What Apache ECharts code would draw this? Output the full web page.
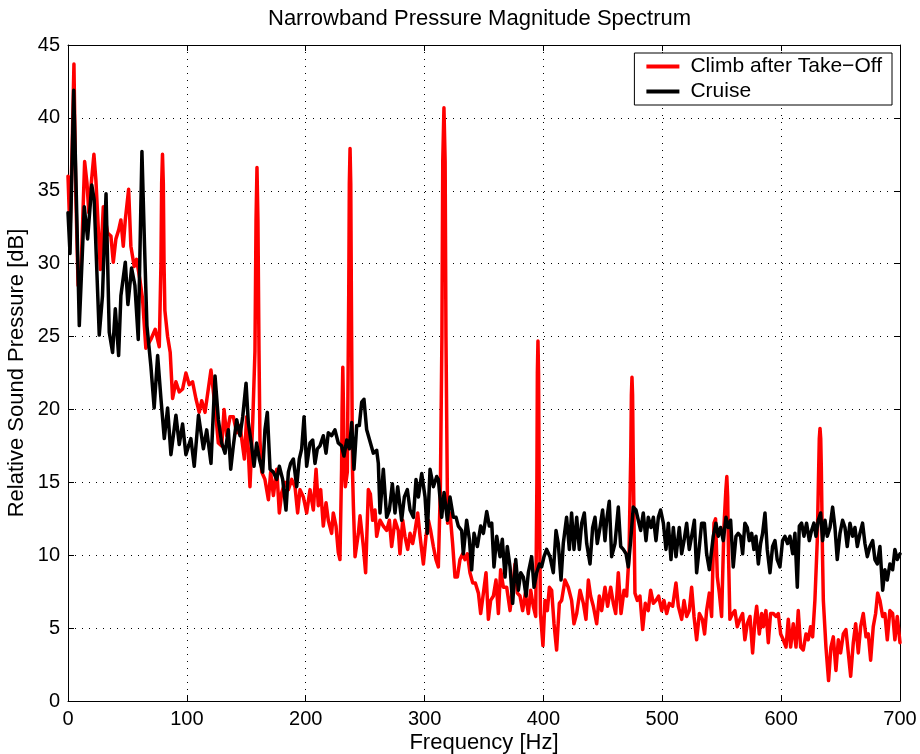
<!DOCTYPE html>
<html>
<head>
<meta charset="utf-8">
<script src="https://cdn.jsdelivr.net/npm/echarts@6/dist/echarts.min.js"></script>
<style>html,body{margin:0;padding:0;background:#fff}#chart{width:920px;height:754px}</style>
</head>
<body>
<div id="chart"></div>
<script>
const chartTitle = 'Narrowband Pressure Magnitude Spectrum';
const xAxisName = 'Frequency [Hz]';
const yAxisName = 'Relative Sound Pressure [dB]';
const seriesNames = ['Climb after Take\u2212Off', 'Cruise'];

// [frequency Hz, level dB]
const climbSpectrum = [[0,36],[1.7,32],[3.5,38],[5,43.7],[6.5,35],[8.5,28.5],[11,29.6],[14,37],[16,35.5],[17.5,33.5],[19,35],[21.8,37.5],[23.5,35.7],[27.2,29.6],[29.7,33.9],[31.5,33],[33.3,32.1],[36.1,31.9],[38.1,30.1],[40.3,31.7],[42.6,32.3],[44.5,33],[46.5,31.2],[48.2,33],[51,35.1],[52.9,31.2],[55.7,29.8],[57.7,30.3],[60.5,28.9],[62.7,27.6],[65.5,24.2],[69.7,24.8],[73.4,25.5],[76.8,24.3],[78.2,30],[78.8,35.5],[79.5,37.5],[80.2,35.5],[80.8,30],[81.5,26.8],[83.8,25],[86,23.9],[88,20.75],[90.8,21.9],[93.6,21.2],[96.4,21.4],[99.2,22.5],[102,21.7],[104.8,21.9],[107.6,20.75],[110.4,19.8],[112.5,20.6],[115.3,19.8],[120.3,22.7],[123.7,20.2],[126.5,17.7],[129.3,17.5],[131.3,20],[133.5,18.2],[136.3,19.5],[139.1,19.5],[141.9,18.4],[144.7,18.9],[148.4,16.6],[150.3,19.5],[153.1,14.7],[155.4,19.1],[157.3,24],[158.2,33],[159,36.6],[159.8,33],[160.7,24],[161.5,17.9],[163,15.7],[165.7,15.2],[168.6,13.8],[170.5,15.7],[172.8,14.1],[175.6,15.9],[177.8,12.9],[179.8,14.3],[182.6,15],[185.4,14.5],[188.2,15.2],[191,14.7],[193.2,12.9],[195.2,14.5],[198,14],[200.8,12.9],[203.6,14.5],[206.4,13.1],[208.7,15.9],[210.6,13.4],[212.6,14.5],[214.8,12],[217.1,13.6],[219,12.4],[221.8,11.5],[223.2,12.9],[225.5,12],[227.4,10.2],[228.8,9.7],[230.2,16],[230.6,20],[231.2,22.9],[231.8,20],[232.3,16],[233.3,14.7],[235,15.7],[236.2,28],[236.7,35.5],[237.3,37.9],[237.9,35.5],[238.4,28],[239.3,16],[240.1,13.4],[241.5,9.9],[244.3,11.5],[245.7,12.7],[248.5,10.6],[250.4,8.8],[252.7,14.5],[254.4,14.2],[256.3,12.4],[258.3,13.1],[259.7,11.3],[262.5,12.4],[265.3,12],[268.1,11.7],[270.4,12.4],[272.3,10.6],[275.1,12.4],[277.9,11.7],[279.3,10.1],[281.6,12.4],[283.5,11.3],[285.8,10.4],[287.8,11.5],[290,10.8],[292,11.7],[294.2,12.9],[296.2,11.3],[299,9.4],[301.2,11.3],[303.2,12.4],[305.1,11.7],[307.4,10.6],[309.6,9.7],[311.6,9.2],[313.3,14.7],[314.6,25],[315.3,37],[316.3,40.7],[317.3,37],[318,25],[319.4,12.2],[321.4,12.9],[323.6,10.8],[325.6,8.5],[327.6,8.5],[329.8,9.7],[332.1,10.1],[334,9.7],[336,10.1],[338.2,8.8],[340.5,8.1],[342.7,8.1],[345.3,7.4],[347.2,6],[349.5,7.4],[351.7,8.8],[353.7,5.6],[355.6,6.9],[357.9,7.2],[360.1,8.3],[362.1,6],[364,9],[366.3,7.8],[369.1,7.8],[371.9,6.2],[374.1,7.8],[376.1,9.4],[378.1,7.4],[380.3,7.2],[382.5,6.2],[384.8,7.4],[387.3,6],[389.3,7.6],[391.5,6.5],[393.5,5.8],[394.5,15],[394.9,22.5],[395.4,24.7],[395.9,22.5],[396.4,15],[397.5,6],[399.6,3.8],[401.3,6.9],[403.3,6.2],[405,7.8],[406.9,7.6],[408.9,5.3],[411.1,3.5],[413.4,6.7],[415.3,6.9],[418.1,8.3],[420.9,7.8],[423.7,6.9],[425.7,5.3],[428,6],[430.8,7.6],[433.6,6.7],[435.8,5.6],[437.8,8.3],[439.7,7.2],[442,6.5],[444.8,5.3],[447,7.2],[449,6.2],[451.8,7.8],[454,6.5],[456.6,7.8],[458.8,6.7],[460.8,6],[463,8.8],[465.3,6],[467.8,7.6],[470,7.2],[472,10],[473.5,17],[474,21],[474.5,22.2],[475,21],[475.5,17],[477,7.4],[479,6.9],[481.2,7.2],[483.5,4.9],[485.7,6.7],[488.2,6.2],[490.2,7.6],[492.5,6.7],[494.7,6.9],[496.9,7.2],[499.5,6.2],[501.4,6.9],[503.7,6],[505.9,6.7],[508.7,6.5],[511.5,8.1],[513.5,6.5],[516.3,5.6],[518.3,6.9],[520.5,5.8],[522.7,6.2],[524.7,7.8],[526.7,5.8],[528.9,4.2],[531.2,6],[533.7,5.6],[535.6,4.6],[537.3,6.2],[539.6,7.4],[541.5,5.8],[543.5,12.2],[544.8,12.5],[546.3,8.5],[548,7.4],[549.9,5.8],[551.9,12],[553.5,14.5],[554.3,15.4],[555,14],[555.8,9.7],[556.9,5.6],[559.2,6],[561.1,6.2],[563.1,5.1],[565.3,5.6],[567.6,6],[569.5,4.2],[571.5,5.3],[573.8,5.8],[576,3.3],[578,5.6],[579.4,6.5],[581.6,4.6],[583.6,6],[585,5.1],[587.2,6.2],[589.2,4],[591.1,6],[593.4,6],[595.6,5.8],[597.6,6],[599.6,4.6],[601.8,4.2],[604.1,3.7],[606,5.6],[608,3.7],[610.2,5.3],[612.5,3.7],[614.4,6.2],[616.4,3.7],[618.6,3.5],[620.9,4.6],[622.8,4.2],[624.8,5.1],[626.5,4.4],[628.4,6.9],[630.4,11],[631.6,16],[632.1,18],[632.7,18.7],[633.3,18],[633.8,16],[634.8,10],[635.5,6.9],[637.7,3.7],[639.9,1.4],[641.9,3.7],[643.9,4.4],[646.1,2.1],[648.1,4.2],[650,3.3],[652.3,4.6],[654.5,4.9],[656.5,3.3],[658.5,1.7],[660.7,4],[662.7,5.3],[664.9,3.3],[666.9,5.1],[669.1,6],[671.4,4.4],[673.3,4.6],[675.3,2.8],[677.5,5.1],[679.5,6],[681.2,7.4],[683.1,6.9],[685.4,5.8],[687.3,6],[689.3,4.2],[691.5,6.2],[693.8,6],[695.7,4.2],[697.7,5.8],[700,4]];

const cruiseSpectrum = [[0,33.5],[1.7,30.7],[4.8,41.9],[6.7,35.7],[9.5,25.75],[13.7,33.9],[16.5,31.7],[20,35.4],[22,34.4],[26.3,25.1],[29,27.8],[32,34.8],[34.7,25.3],[37.5,23.9],[39.8,26.9],[42.6,23.7],[44.5,27.8],[48.2,30.1],[50.4,27.2],[53.5,29.7],[56.3,28.5],[59.1,24.8],[62.2,37.7],[64.4,31.2],[66.4,25.75],[69.7,23.0],[72.5,20.1],[75.4,23.7],[78.2,20.75],[81,18.0],[83.8,20.1],[86.6,16.9],[90.8,19.6],[93.6,17.6],[96.4,19.0],[99.2,16.9],[103.4,18],[106.2,16.1],[109.8,19.6],[113.9,17.3],[116.7,18.6],[120.3,16.3],[123.7,22.3],[126.5,19.3],[129.3,17.7],[132.1,17],[134.9,18.6],[136.9,15.9],[139.1,17.5],[141.9,19.3],[144.7,18.2],[147,19.5],[149.8,21.8],[151.7,19.1],[154.5,17.5],[156.5,16.1],[158.7,17.7],[161,16.6],[163.8,15.7],[165.7,18.6],[167.7,19.8],[170,15.9],[172.8,15.7],[175.6,15.2],[177.8,16.1],[180.6,15.2],[183.4,13.1],[185.4,15.7],[187.3,16.3],[189.6,16.6],[192.4,14.7],[194.6,16.6],[196.6,17.3],[198.6,19.5],[200.8,16.1],[203.6,17.7],[205.9,17.9],[207.8,16.3],[209.8,17.3],[212,17.5],[214.8,18.2],[217.1,17],[219,18.4],[221.8,18.2],[224.6,18.6],[227.4,17.7],[230.2,17.5],[232.2,16.8],[234.5,17.9],[236.7,17.3],[238.7,19.1],[240.6,15.9],[242.9,18.9],[245.1,18.9],[247.1,20.5],[249,20.7],[251.3,18.6],[254.1,17.8],[256.9,17],[259.7,17.2],[261.1,16.3],[262.5,12.9],[265.3,15.9],[268.1,12.6],[270.4,13.1],[272.9,14.9],[275.1,12.9],[277.4,14.7],[280.7,12.4],[283,14],[285.5,14.5],[287.8,13.1],[290.6,12.6],[292.8,15.2],[294.8,14],[297.6,15.6],[300.4,14],[302.3,11.5],[304.6,15.9],[307.4,14.7],[310.2,15.4],[311.6,15.2],[314.4,12.6],[316.4,14.3],[319.2,12.4],[321.4,14],[324.2,12.6],[326.5,12.6],[328.4,12],[331.2,11.7],[332.6,10.1],[335.4,12.4],[337.7,11.1],[339.6,9],[341.6,11.5],[344.4,10.6],[347.2,12],[349.5,11.5],[352.3,13],[354.5,12],[356.5,12.2],[358.4,9.2],[360.7,11.3],[363.5,9.9],[365.4,11.1],[367.7,8.5],[369.6,10.6],[371.9,9.2],[374.1,6.7],[376.7,9.7],[378.9,7.6],[380.9,8.8],[383.1,8.5],[385.4,7.2],[387.3,8.8],[390.1,9.9],[392.1,7.8],[394.3,8.8],[396.6,9.4],[398.5,9.2],[400.5,9.9],[402.7,10.4],[405.5,9.9],[408.3,8.8],[410.6,11.7],[412.5,10.8],[414.8,8.3],[416.7,10.8],[419.5,12.6],[421.8,10.4],[423.7,12.9],[425.7,10.4],[428,12.6],[430.2,10.4],[432.2,12.2],[434.4,12.9],[436.4,10.8],[439.2,9.4],[441.4,11.9],[443.4,12.6],[445.3,10.8],[447.6,11.9],[449.8,13.1],[451.8,11],[453.2,12.4],[455.4,13.7],[457.4,9.9],[460.2,10.8],[463,13.3],[465,10.6],[467.2,10.4],[469.5,10.1],[471.4,9.2],[473.4,11],[475.6,13.3],[477.9,13.1],[479.8,12.4],[481.8,11.7],[484,12.9],[486.3,11],[488.2,12.6],[490.5,11.9],[492.5,12.6],[494.7,11],[496.7,12.6],[498.6,13.1],[500.9,12.2],[503.1,10.4],[505.1,12.2],[507.3,9.7],[509.3,11.9],[511.5,9.9],[514.3,11.9],[516.3,10.1],[518.3,11],[520.5,12.2],[522.7,10.4],[524.7,11.3],[527,12.4],[528.9,8.8],[531.2,10.6],[533.1,12.2],[535.4,12.2],[537.3,10.1],[539.6,9],[542.9,11.3],[545.1,12.2],[547.1,11.3],[549.1,11.9],[551.3,11],[553.6,12.6],[555.5,11.9],[557.5,12.4],[559.7,9.2],[562,11.3],[563.9,11.5],[565.9,11.3],[567.6,10.1],[569.5,12.2],[571.5,11.9],[573.2,11],[575.2,11.5],[577.1,10.4],[578.8,11.3],[580.8,9.4],[582.7,10.8],[584.4,11.5],[586.4,12.9],[588.3,10.4],[590.6,8.8],[592.8,10.6],[594.8,11],[596.7,9.7],[599,9.2],[601.2,11],[603.2,11.3],[605.4,10.8],[607.4,11.3],[609.7,10.1],[611.6,11.5],[613.6,7.8],[615.3,12],[617.2,12.2],[619.2,11.3],[621.4,12.2],[623.7,11],[625.6,11.7],[627.6,12.2],[629.3,11.3],[631.2,12.4],[633.2,12.9],[634.9,11],[636.9,12.4],[638.8,11.3],[641.1,11.9],[643.3,13.3],[645.3,11.9],[647.2,9.7],[649.5,11.5],[651.7,12.4],[653.7,11.9],[655.6,10.6],[657.9,12.2],[660.1,11.3],[662.1,11.9],[664.1,10.6],[666.3,11.5],[668.5,12.2],[670.5,10.8],[672.5,9.9],[674.7,10.6],[677,11],[678.9,9.7],[680.9,9.4],[683.1,10.6],[685.4,7.6],[687.3,9],[689.3,8.3],[691.5,9.4],[693.8,9],[695.7,10.4],[697.7,9.7],[700,10.1]];

const xRange = [0, 700, 100];
const yRange = [0, 45, 5];

const FONT = "'Liberation Sans', Arial, Helvetica, sans-serif";
const chart = echarts.init(document.getElementById('chart'), null, {renderer: 'canvas'});

const gridLine = {show: true, lineStyle: {color: '#000', width: 1, type: [1, 6]}};
function axisCommon(range) {
  return {
    type: 'value', min: range[0], max: range[1], interval: range[2],
    axisLine: {show: true, onZero: false, lineStyle: {color: '#000', width: 1}},
    axisTick: {show: true, inside: true, length: 6, lineStyle: {color: '#000', width: 1}},
  };
}

chart.setOption({
  animation: false,
  backgroundColor: '#fff',
  textStyle: {fontFamily: FONT, color: '#000'},
  title: {
    text: chartTitle, left: 268, top: 8, padding: 0,
    textStyle: {fontFamily: FONT, fontSize: 22, fontWeight: 'normal', color: '#000'}
  },
  legend: {
    data: seriesNames, orient: 'vertical', right: 28, top: 53,
    padding: [3, 10, 3, 12], itemGap: 4,
    backgroundColor: '#fff', borderColor: '#000', borderWidth: 1,
    icon: 'rect', itemWidth: 33, itemHeight: 4,
    textStyle: {fontFamily: FONT, fontSize: 21, color: '#000', padding: [0, 0, 0, 6]}
  },
  grid: {left: 68, right: 20, top: 45, bottom: 53, containLabel: false, outerBoundsMode: 'none'},
  xAxis: [
    Object.assign(axisCommon(xRange), {
      position: 'bottom',
      axisLabel: {color: '#000', fontSize: 20, margin: 8, fontFamily: FONT},
      splitLine: gridLine,
      name: xAxisName, nameLocation: 'middle', nameGap: 31, nameMoveOverlap: false,
      nameTextStyle: {fontFamily: FONT, fontSize: 22, color: '#000'}
    }),
    Object.assign(axisCommon(xRange), {
      position: 'top', axisLabel: {show: false}, splitLine: {show: false}
    })
  ],
  yAxis: [
    Object.assign(axisCommon(yRange), {
      position: 'left',
      axisLabel: {color: '#000', fontSize: 20, margin: 8, fontFamily: FONT},
      splitLine: gridLine,
      name: yAxisName, nameLocation: 'middle', nameGap: 40, nameMoveOverlap: false,
      nameTextStyle: {fontFamily: FONT, fontSize: 22, color: '#000'}
    }),
    Object.assign(axisCommon(yRange), {
      position: 'right', axisLabel: {show: false}, splitLine: {show: false}
    })
  ],
  series: [
    {
      name: seriesNames[0], type: 'line', data: climbSpectrum,
      xAxisIndex: 0, yAxisIndex: 0, showSymbol: false, symbol: 'none',
      color: '#ff0000', lineStyle: {color: '#ff0000', width: 3.5, join: 'round', cap: 'round'}, z: 2
    },
    {
      name: seriesNames[1], type: 'line', data: cruiseSpectrum,
      xAxisIndex: 0, yAxisIndex: 0, showSymbol: false, symbol: 'none',
      color: '#000', lineStyle: {color: '#000', width: 3.5, join: 'round', cap: 'round'}, z: 3
    }
  ]
});
</script>
</body>
</html>
